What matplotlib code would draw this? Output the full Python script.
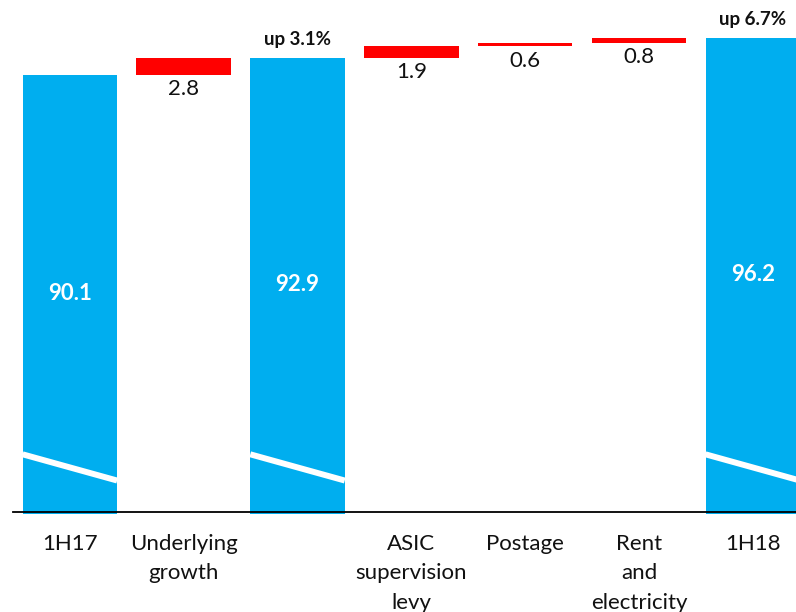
import matplotlib
matplotlib.use("Agg")
import matplotlib.pyplot as plt
import numpy as np

plt.rcParams['font.family'] = ['Lato', 'DejaVu Sans']

# waterfall data
categories = ["1H17", "Underlying\ngrowth", "", "ASIC\nsupervision\nlevy",
              "Postage", "Rent\nand\nelectricity", "1H18"]
total_idx = [0, 2, 6]
total_vals = [90.1, 92.9, 96.2]
change_idx = [1, 3, 4, 5]
change_vals = [2.8, 1.9, 0.6, 0.8]
growth_idx = [2, 6]
growth_labels = ["up 3.1%", "up 6.7%"]

blue = "#00AEEF"
red = "#FF0000"
y0 = 18.5
width = 0.83

fig = plt.figure(figsize=(7.96, 6.12), dpi=100)
ax = fig.add_axes([0.0163, 0.164, 0.9837, 0.836])

# running bases for the change bars
bases = []
running = total_vals[0]
for v in change_vals:
    bases.append(running)
    running += v

ax.bar(total_idx, np.array(total_vals) - y0 + 0.4, bottom=y0 - 0.4, width=width,
       color=blue, clip_on=False, zorder=2)
ax.bar(change_idx, change_vals, bottom=bases, width=width, color=red, zorder=2)

# axis break marks on the blue bars
for i in total_idx:
    ax.plot([i - width / 2, i + width / 2], [27.9, 23.6], color="white", lw=4.3,
            solid_capstyle="butt", zorder=3)

for i, v in zip(total_idx, total_vals):
    ax.text(i, (y0 + v) / 2, f"{v:.1f}", ha="center", va="center", color="white",
            fontsize=16, fontweight="bold", zorder=4)

for i, b, v in zip(change_idx, bases, change_vals):
    ax.annotate(f"{v:.1f}", (i, b), xytext=(0, -3), textcoords="offset points",
                ha="center", va="top", fontsize=16, color="#111111")

for i, lab in zip(growth_idx, growth_labels):
    v = total_vals[total_idx.index(i)]
    ax.annotate(lab, (i, v), xytext=(0, 7), textcoords="offset points",
                ha="center", va="bottom", fontsize=13.5, fontweight="bold",
                color="#111111", annotation_clip=False)

ax.set_xlim(-0.5, 6.38)
ax.set_ylim(y0, 102.4)
ax.set_xticks(range(len(categories)))
ax.set_xticklabels(categories, fontsize=16, linespacing=1.6, color="#111111")
ax.tick_params(axis="x", length=0, pad=16)
ax.set_yticks([])
for s in ["top", "right", "left"]:
    ax.spines[s].set_visible(False)
ax.spines["bottom"].set_linewidth(1.3)
ax.spines["bottom"].set_zorder(5)

fig.savefig("out.png", dpi=100)
